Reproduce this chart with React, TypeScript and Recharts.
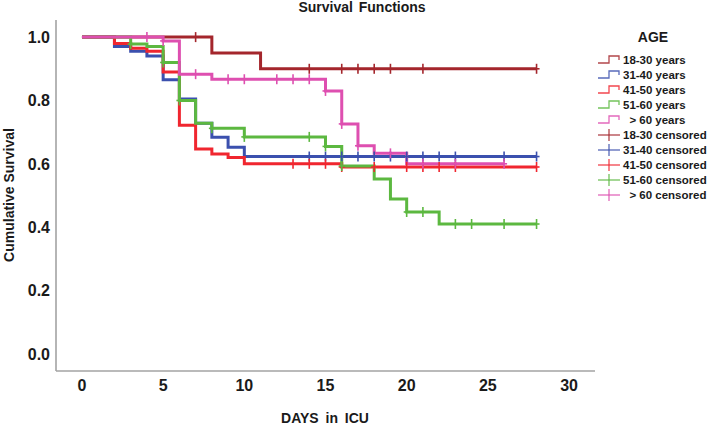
import React from 'react';
import { ComposedChart, Line, Scatter, XAxis, YAxis } from 'recharts';

// Kaplan-Meier step curves
const groupNames = ['18-30 years', '31-40 years', '41-50 years', '51-60 years', '> 60 years'];
const censorNames = ['18-30 censored', '31-40 censored', '41-50 censored', '51-60 censored', '> 60 censored'];
const groupColors = ['#A4262C', '#3B50AE', '#F0262F', '#5CB840', '#DE4FB0'];

const age1830Times = [0, 8, 11, 28];
const age1830Surv = [1.0, 0.95, 0.9, 0.9];
const age1830Censored = [7, 14, 16, 17, 18, 19, 21, 28];

const age3140Times = [0, 2, 3, 4, 5, 6, 7, 8, 9, 10, 28];
const age3140Surv = [1.0, 0.97, 0.955, 0.94, 0.865, 0.805, 0.728, 0.684, 0.652, 0.623, 0.623];
const age3140Censored = [14, 15, 16, 17, 18, 19, 20, 21, 22, 23, 26, 28];

const age4150Times = [0, 2, 3, 4, 5, 6, 7, 8, 9, 10, 16, 28];
const age4150Surv = [1.0, 0.98, 0.965, 0.955, 0.89, 0.722, 0.647, 0.631, 0.62, 0.6, 0.59, 0.59];
const age4150Censored = [13, 14, 15, 16, 18, 20, 21, 22, 23, 28];

const age5160Times = [0, 3, 4, 5, 6, 7, 8, 10, 15, 16, 18, 19, 20, 22, 28];
const age5160Surv = [1.0, 0.978, 0.97, 0.92, 0.8, 0.728, 0.712, 0.685, 0.655, 0.593, 0.552, 0.489, 0.448, 0.41, 0.41];
const age5160Censored = [3, 5, 6, 8, 10, 14, 15, 16, 20, 21, 23, 24, 26, 28];

const age60Times = [0, 5, 6, 8, 15, 16, 17, 18, 20, 26];
const age60Surv = [1.0, 0.988, 0.883, 0.867, 0.83, 0.726, 0.657, 0.633, 0.6, 0.6];
const age60Censored = [4, 5, 7, 9, 10, 12, 13, 14, 15, 16, 17, 19, 21, 23, 26];

const xTicks = [0, 5, 10, 15, 20, 25, 30];
const yTicks = [0, 0.2, 0.4, 0.6, 0.8, 1.0];

const allTimes = [age1830Times, age3140Times, age4150Times, age5160Times, age60Times];
const allSurv = [age1830Surv, age3140Surv, age4150Surv, age5160Surv, age60Surv];
const allCensored = [age1830Censored, age3140Censored, age4150Censored, age5160Censored, age60Censored];

const stepAt = (times: number[], surv: number[], t: number) => {
  let v = surv[0];
  times.forEach((tt, i) => {
    if (tt <= t) v = surv[i];
  });
  return v;
};

const curves = allTimes.map((times, g) => times.map((x, i) => ({ x, y: allSurv[g][i] })));
const censored = allCensored.map((list, g) =>
  list.map((x) => ({ x, y: stepAt(allTimes[g], allSurv[g], x) }))
);

const font = '"Liberation Sans", Arial, sans-serif';

const PlusMark = (props: any) => {
  const { cx, cy, fill } = props;
  return (
    <g stroke={fill} strokeWidth={1.6}>
      <line x1={cx} y1={cy - 5} x2={cx} y2={cy + 5} />
      <line x1={cx - 3} y1={cy} x2={cx + 3} y2={cy} />
    </g>
  );
};

const StepIcon = ({ color }: { color: string }) => (
  <svg width={24} height={12} style={{ display: 'block' }}>
    <polyline points="1,9 12,9 12,2 22,2 22,6" fill="none" stroke={color} strokeWidth={1.3} opacity={0.85} />
  </svg>
);

const CrossIcon = ({ color }: { color: string }) => (
  <svg width={24} height={14} style={{ display: 'block' }}>
    <line x1={1} y1={7} x2={23} y2={7} stroke={color} strokeWidth={1.3} opacity={0.85} />
    <line x1={12} y1={1} x2={12} y2={13} stroke={color} strokeWidth={1.3} opacity={0.85} />
  </svg>
);

export default function App() {
  const legendRows = [
    ...groupNames.map((n, i) => ({ label: n, color: groupColors[i], kind: 'step' })),
    ...censorNames.map((n, i) => ({ label: n, color: groupColors[i], kind: 'cross' })),
  ];

  return (
    <div style={{ position: 'absolute', left: 0, top: 0, width: 711, height: 426, background: '#fff', fontFamily: font }}>
      <ComposedChart width={711} height={426} margin={{ top: 20, right: 116, bottom: 0, left: 0 }}>
        <XAxis
          type="number"
          dataKey="x"
          domain={[-1.6, 31.6]}
          allowDataOverflow
          ticks={xTicks}
          tickLine={false}
          tickSize={6}
          tickMargin={3}
          height={55}
          axisLine={{ stroke: '#A3A3A3', strokeWidth: 1.6 }}
          tick={{ fill: '#1a1a1a', fontSize: 16, fontWeight: 700, fontFamily: font }}
        />
        <YAxis
          type="number"
          dataKey="y"
          domain={[-0.054, 1.054]}
          allowDataOverflow
          ticks={yTicks}
          tickFormatter={(v: number) => v.toFixed(1)}
          tickLine={false}
          tickSize={6}
          tickMargin={0}
          width={56}
          axisLine={{ stroke: '#A3A3A3', strokeWidth: 1.6 }}
          tick={{ fill: '#1a1a1a', fontSize: 16, fontWeight: 700, fontFamily: font }}
        />
        {curves.map((data, g) => (
          <Line
            key={`curve-${g}`}
            data={data}
            dataKey="y"
            type="stepAfter"
            stroke={groupColors[g]}
            strokeWidth={3}
            dot={false}
            activeDot={false}
            isAnimationActive={false}
          />
        ))}
        {censored.map((data, g) => (
          <Scatter
            key={`cens-${g}`}
            data={data}
            dataKey="y"
            fill={groupColors[g]}
            shape={<PlusMark />}
            isAnimationActive={false}
          />
        ))}
      </ComposedChart>

      <div style={{ position: 'absolute', left: 262, top: -1, width: 200, textAlign: 'center', fontSize: 14, fontWeight: 700, color: '#1a1a1a', wordSpacing: 2 }}>
        Survival Functions
      </div>

      <div
        style={{
          position: 'absolute',
          left: 9,
          top: 195,
          transform: 'translate(-50%, -50%) rotate(-90deg)',
          whiteSpace: 'nowrap',
          fontSize: 14,
          fontWeight: 700,
          color: '#1a1a1a',
        }}
      >
        Cumulative Survival
      </div>

      <div style={{ position: 'absolute', left: 225, top: 410, width: 200, textAlign: 'center', fontSize: 14, fontWeight: 700, color: '#1a1a1a', wordSpacing: 3 }}>
        DAYS in ICU
      </div>

      <div style={{ position: 'absolute', left: 613, top: 29, width: 80, textAlign: 'center', fontSize: 14, fontWeight: 700, color: '#1a1a1a' }}>
        AGE
      </div>

      <div style={{ position: 'absolute', left: 597, top: 52 }}>
        {legendRows.map((r) => (
          <div key={r.label} style={{ display: 'flex', alignItems: 'center', height: 15, fontSize: 11.5, fontWeight: 700, color: '#1a1a1a', whiteSpace: 'pre' }}>
            {r.kind === 'step' ? <StepIcon color={r.color} /> : <CrossIcon color={r.color} />}
            <span style={{ marginLeft: 2 }}>{r.label.startsWith('>') ? '  ' + r.label : r.label}</span>
          </div>
        ))}
      </div>
    </div>
  );
}
